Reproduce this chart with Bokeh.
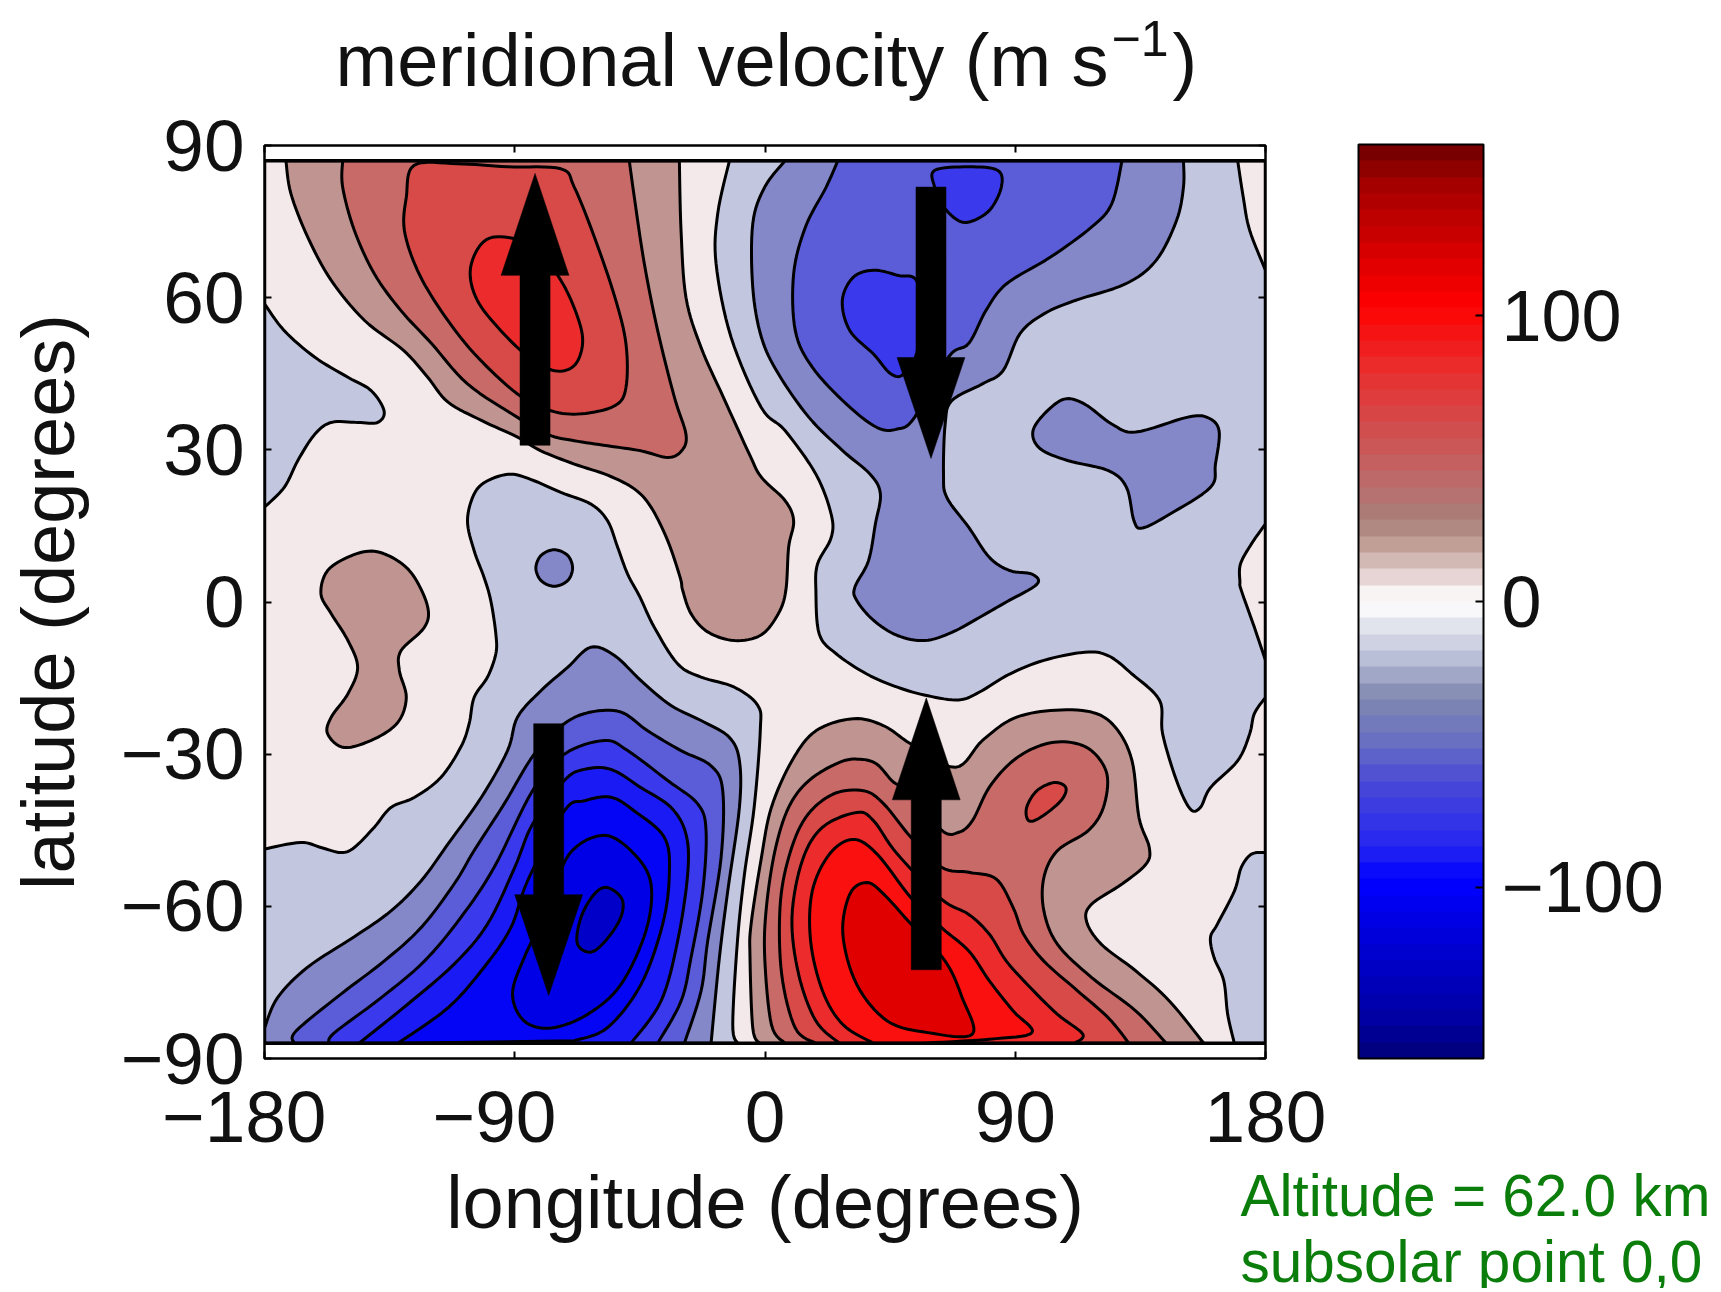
import numpy as np
from bokeh.embed import file_html
from bokeh.resources import INLINE
from bokeh.plotting import figure
from bokeh.layouts import column
from bokeh.core.properties import value
from bokeh.models import (ColumnDataSource, FixedTicker, LinearAxis, ColorBar, LinearColorMapper)

# ---- tick labels / text ----
x_ticks = [-180, -90, 0, 90, 180]
y_ticks = [-90, -60, -30, 0, 30, 60, 90]
cb_ticks = [-100, 0, 100]
title_text = ["meridional velocity (m s", "\u22121", ")"]
note_lines = ["Altitude = 62.0 km", "subsolar point 0,0"]

# ---- contour outlines (lon, lat) ----
neg1_north = [(-12.8,87),(-17,76.6),(-17.6,66.7),(-12.2,52.2),(-1.4,38.4),(7.2,33.8),(18.3,25.2),(23.8,17.3),(23.8,12.7),(18.9,7.5),(18.3,2.3),(19.5,-6.3),(25.6,-10.2),(36.6,-14.2),(47.6,-16.8),(58.6,-18.5),(69.7,-19.3),(77,-17.8),(88,-14.2),(100.3,-11.5),(115,-9.9),(123.5,-10.6),(132,-14.2),(141.9,-19.4),(143,-26),(148,-35.2),(152.9,-40.8),(156.6,-40.5),(160.2,-36.6),(170,-31.3),(174.3,-26),(176,-22),(180,-18.8)]
zero_east = [(180,15.4),(175,11.5),(171,7.5),(170.8,4),(171.3,2.3),(176,-5),(180,-11.5)]
zero_corner = [(170,87),(172,79.8),(174.3,73.3),(180,65.4)]
neg1_southeast = [(180,-49.4),(175,-49.7),(171.3,-52.3),(168.8,-57),(162.7,-63.5),(160.2,-66.2),(161.5,-70.1),(165,-74.7),(166.4,-81.3),(168.8,-87)]
neg1_west = [(-180,58.8),(-172.9,53.5),(-162,48.3),(-150,44.3),(-141.7,41.7),(-137,37.7),(-139.3,35.4),(-146.5,35.4),(-156,35.4),(-162,33),(-168,27.9),(-172.9,22.6),(-180,18.7)]
neg1_south = [(-180,-48.7),(-167,-47.4),(-159.7,-48.4),(-152.5,-49.4),(-147.7,-48.4),(-140.5,-44.4),(-134.5,-40.5),(-126,-38.5),(-116.6,-34.6),(-109.4,-28.6),(-106.4,-24),(-104.6,-18.8),(-99.8,-14.8),(-96.8,-10.2),(-96.8,-6.3),(-98.6,0.2),(-101,4.8),(-104.6,10.1),(-107,16),(-104.6,21.3),(-99.8,23.9),(-91.4,25.2),(-83,23.9),(-73.4,21.6),(-62.6,19.3),(-56.6,16),(-53,10.8),(-49.4,5.5),(-45,1),(-39.8,-5),(-31.4,-12.2),(-23,-14.8),(-11,-16.8),(-2.6,-20.4),(-1.7,-25.4),(-3.9,-40.5),(-7.4,-53.7),(-9.9,-66.8),(-11.6,-83.3),(-9.9,-87)]
neg2_dot = [(-75.8,10.3),(-71,9.2),(-69.2,6.7),(-71,4.2),(-75.8,3.1),(-80.5,4.2),(-82.4,6.7),(-80.5,9.2)]
neg2_south = [(-180,-84),(-175.3,-78),(-164.5,-72),(-147.7,-66),(-134.5,-60.9),(-123.7,-55),(-114,-47.7),(-102,-38.5),(-92.6,-29.3),(-89,-22.7),(-80.6,-17.5),(-71,-12.9),(-62.6,-8.9),(-54,-10.6),(-44.6,-15.5),(-33.8,-20.4),(-21.8,-23.7),(-12.8,-26.7),(-9.2,-31.3),(-9.2,-40.5),(-13.4,-57),(-16.4,-70.1),(-19.4,-87)]
neg3_south = [(-169.3,-87),(-168.7,-84.6),(-152.5,-77.3),(-137,-70.8),(-123.7,-64.2),(-111.8,-55.6),(-104.6,-49),(-93.8,-39.8),(-83,-30),(-72.2,-24),(-62.6,-21.7),(-51.8,-21.7),(-42.2,-25.4),(-30.2,-29.3),(-19.4,-32.3),(-15.2,-37.2),(-15.8,-50.4),(-20.6,-66.8),(-23,-76.7),(-29,-87)]
neg4_south = [(-156.7,-87),(-155,-85),(-138,-78),(-122.5,-70.8),(-109.4,-62.2),(-97.4,-52.3),(-83.6,-37.2),(-72.2,-30),(-57.8,-27.3),(-49.4,-29.3),(-35,-35.2),(-24.2,-39.8),(-21.2,-45.1),(-22.4,-57),(-26.6,-70.1),(-30.2,-78.7),(-38.6,-87)]
neg5_south = [(-146,-87),(-128.5,-79.3),(-111.8,-71.4),(-99.8,-63.5),(-90,-52.3),(-83.6,-43.8),(-72.2,-35.2),(-65,-33),(-55.4,-33),(-44.6,-36.6),(-33.8,-40.5),(-28.4,-45.8),(-27.8,-53.6),(-31.4,-66.8),(-37.4,-78.7),(-48.2,-87)]
neg6_south = [(-132,-87),(-114,-80),(-101,-72),(-91.4,-64.2),(-85.4,-55),(-72.2,-41.2),(-65,-39.2),(-55.4,-38.5),(-47,-41.2),(-36.2,-46.4),(-34.4,-53.6),(-36.8,-63.5),(-44.6,-75.4),(-56.6,-83.9),(-68.6,-86.5)]
neg7_south = [(-57.8,-46),(-47,-49.7),(-41,-55.6),(-42.8,-64.8),(-51.8,-75.4),(-63.8,-81.3),(-77,-84),(-86.6,-82.6),(-90.8,-77.3),(-86.6,-70.1),(-78,-60.2),(-70.4,-49.7)]
neg8_south = [(-56.6,-56.3),(-51.2,-58.9),(-53,-63.5),(-61.4,-68.8),(-67.4,-67.5),(-66.2,-62.2),(-61.4,-57.6)]
neg2_north = [(7.2,87),(-0.1,81.8),(-4.4,74.6),(-4.4,62),(-1.3,52.2),(4.8,45),(15.8,36.4),(28,29.8),(37.8,25.2),(41.5,21.3),(39.7,15.4),(37.2,8.1),(32.3,2.9),(33,0.3),(39,-3.6),(47.6,-6.6),(57.4,-7.6),(67.2,-6),(78.2,-2.7),(86.8,0),(97.8,3.5),(96,5.5),(88,6.2),(80.7,8.8),(73.3,14.7),(65.4,20.6),(64.2,25.2),(64.8,35.1),(67.2,39.7),(78.2,43),(85.6,45.6),(91.7,52.9),(100.3,56.8),(111.3,59.4),(129.6,62.7),(140.6,67.3),(148,75.2),(150.5,81.8),(150.5,87)]
neg2_island = [(107.6,40),(100.3,37),(96.3,33.5),(99,30.2),(108.8,27.9),(123.5,25.9),(130,22.6),(132.7,16),(135.8,14.6),(145.5,17.3),(160.2,22.6),(162,27.2),(163.3,33.8),(159,36.4),(151.7,36.4),(133.3,33.5),(124.7,35.1),(115,39)]
neg3_north = [(26.2,87),(22,81.8),(14.6,74),(10.3,64.7),(10.9,53.5),(17,46.3),(29.3,39),(40.3,34.4),(47.6,34.1),(53.8,36.4),(66,48.3),(73.3,51),(79.5,57.5),(86.8,62.7),(102.7,68),(117.4,73.9),(124.7,78.5),(128.4,87)]
neg4_core = [(39,65.4),(31.7,64),(27.8,59.4),(30.5,53.5),(39,48.9),(45.2,45),(50,45),(55,50.2),(55,62.7),(47.6,64.4)]
neg4_pole = [(61,85.1),(73.3,85.8),(83.7,85.1),(85,81.8),(80.7,77.2),(73.3,74.9),(68.4,75.6),(63.5,78.5),(61,81.8)]
pos1_north = [(-172.3,87),(-170.5,80.5),(-164.5,72),(-156,63.4),(-144,55.5),(-130,49.6),(-121.3,44.3),(-114,39.4),(-102,35.8),(-89,32.5),(-80.6,29.8),(-68.6,27.2),(-56.6,25),(-47,22.3),(-41,18.7),(-35,12.1),(-30.5,4.8),(-29.6,2.3),(-26.6,-2.3),(-20.6,-5.9),(-11,-7.6),(-1.4,-6.5),(4.8,-2.3),(7.5,2.3),(8.5,10.8),(10.3,16),(7.2,20),(-1.3,24.6),(-5.5,29),(-15,40.4),(-23,50.2),(-28.4,60),(-30.2,73.3),(-30.8,87)]
pos1_blob = [(-140.5,10),(-148.9,9.1),(-157.3,6.2),(-159.7,1.6),(-156,-2.3),(-150,-7.6),(-146.5,-12.9),(-150,-18.1),(-156,-22.7),(-157.3,-26),(-151.3,-28.7),(-140.5,-27),(-132,-23.7),(-129,-18.8),(-131.5,-13.5),(-130.9,-9.6),(-122.5,-5),(-121.3,-1),(-126,4.8),(-132,8.1)]
pos2_north = [(-151.9,87),(-151.9,81.8),(-147.7,73.3),(-140.5,64.7),(-131,57.5),(-120,51),(-107,43),(-89,36.4),(-78,33),(-68.6,31.8),(-56.6,30.8),(-44.6,29.8),(-35,28.5),(-30,29.8),(-28.4,33),(-32.6,40.4),(-38.6,53.5),(-43.4,66.7),(-47,79.8),(-48.8,87)]
pos3_north = [(-126.2,86.1),(-129,79.8),(-129.7,73.3),(-125,65.4),(-116.6,57.5),(-104.6,49),(-89,41),(-77,37.7),(-66,37.1),(-54,38.7),(-50,42.3),(-50,50.9),(-54,60.1),(-61.4,72),(-68.6,81.8),(-73.4,85.4),(-92.6,85.8),(-110.6,86.4)]
pos4_north = [(-95,72),(-102,70.6),(-106,65.4),(-103.5,59.5),(-95,53.5),(-85,48.3),(-75.7,45.6),(-68.6,46.6),(-65.6,51),(-67.4,56.2),(-73.4,63.4),(-83,70)]
pos1_south = [(-2,-87),(-4.4,-84),(-5.4,-70),(-5,-63.5),(-1.3,-50.4),(2.3,-40.5),(9.7,-31.3),(18.3,-25.4),(31.7,-23),(42.7,-24.4),(52.5,-28),(68.4,-32.6),(78.2,-27.3),(89.2,-23),(102.7,-21.4),(117.4,-21.7),(126,-24.7),(132,-31.3),(134.5,-42.5),(138.2,-48.4),(137,-51.7),(128.4,-55.6),(117.4,-59.6),(115.6,-62.9),(121,-67.5),(133.3,-72.7),(145.5,-78.7),(157.8,-87)]
pos2_south = [(7.2,-87),(2.3,-83.3),(-0.1,-70.1),(0.5,-60.2),(3.6,-49),(8.5,-40.5),(15.8,-35.2),(26.8,-31.6),(34.2,-31),(40.3,-32),(46.4,-35.6),(52.5,-37.2),(63.5,-45),(69.7,-45.4),(74.6,-43.1),(80.7,-36.5),(89.2,-31.3),(99,-28.3),(108.8,-27.6),(117.4,-29.3),(123,-34),(121.7,-40.5),(116.2,-45.1),(105.2,-49),(100.3,-54.3),(100.3,-60.9),(105.2,-67.5),(117.4,-74),(133.3,-80.6),(144.3,-87)]
pos3_spot = [(104,-35.6),(108.2,-36.6),(106.4,-39.2),(99,-42.5),(94.8,-43.1),(94.1,-40.5),(97.8,-37.2)]
pos3_south = [(18.3,-87),(10.9,-84),(6,-73.4),(5.4,-60.2),(8.5,-50.4),(14.6,-42.5),(24.4,-37.9),(35.4,-37.2),(42.7,-39.8),(52.5,-46.4),(63.5,-52.3),(73.3,-53.3),(83.1,-54.6),(89.2,-60.2),(93,-65.5),(100.3,-70.8),(112.5,-76.7),(123.5,-82),(130.9,-87)]
pos4_south = [(26.8,-87),(18.3,-82.6),(12.1,-73.4),(9.7,-62.2),(13.4,-51),(20.7,-44.4),(33,-41.5),(39,-43.1),(47.6,-49.7),(63.5,-58.6),(73.3,-61.6),(80.7,-65.5),(86.8,-70.8),(95.4,-76),(105.2,-81.3),(114.3,-85.2),(111.3,-87)]
pos5_south = [(39,-87),(28,-83.3),(20.7,-76.7),(16.4,-66.8),(17,-57),(23.2,-49.7),(31.7,-46.8),(40.3,-49.7),(52.5,-58.3),(63.5,-64.2),(73.3,-68.8),(80.7,-74.7),(89.2,-80.6),(96,-84.9),(80.7,-86.2),(56.2,-87)]
pos6_south = [(36.6,-55.3),(30.5,-57.6),(28,-65.5),(33,-75.4),(44,-82.6),(58.6,-84.9),(74.6,-85.2),(70.9,-78),(64.8,-70.8),(52.5,-63.5),(42.7,-57.6)]

# arrows: longitude, tail latitude, head-base latitude, tip latitude
arrow_lon = [-82.7, 59.7, -77.8, 58.0]
arrow_tail = [30.9, 81.8, -24.0, -72.5]
arrow_base = [64.4, 48.2, -57.7, -39.0]
arrow_tip = [84.5, 28.3, -77.6, -18.9]

# band colours
ZERO = "#f3e9ea"
N1, N2, N3, N4, N5, N6, N7, N8 = "#c3c6df", "#8487c8", "#5a5cd8", "#3a3aec", "#1a1af5", "#0505f5", "#0000e6", "#0000c8"
P1, P2, P3, P4, P5, P6 = "#c09490", "#c86a68", "#d84a48", "#ec2c2c", "#fb1010", "#e00000"

# (outline, colour, closed, corners added on the boundary)
layers = [
    (neg1_north, N1, False, [(180, 87)]),
    (zero_east, ZERO, False, []),
    (zero_corner, ZERO, False, [(180, 87)]),
    (neg1_southeast, N1, False, [(180, -87)]),
    (neg1_west, N1, False, []),
    (neg1_south, N1, False, [(-180, -87)]),
    (neg2_dot, N2, True, []),
    (neg2_south, N2, False, [(-180, -87)]),
    (neg3_south, N3, False, []),
    (neg4_south, N4, False, []),
    (neg5_south, N5, False, []),
    (neg6_south, N6, False, []),
    (neg7_south, N7, True, []),
    (neg8_south, N8, True, []),
    (neg2_north, N2, False, []),
    (neg2_island, N2, True, []),
    (neg3_north, N3, False, []),
    (neg4_core, N4, True, []),
    (neg4_pole, N4, True, []),
    (pos1_north, P1, False, []),
    (pos1_blob, P1, True, []),
    (pos2_north, P2, False, []),
    (pos3_north, P3, True, []),
    (pos4_north, P4, True, []),
    (pos1_south, P1, False, []),
    (pos2_south, P2, False, []),
    (pos3_spot, P3, True, []),
    (pos3_south, P3, False, []),
    (pos4_south, P4, False, []),
    (pos5_south, P5, False, []),
    (pos6_south, P6, True, []),
]

# colour bar palette anchors
cb_vals = [-160, -150, -100, -86, -65, -48, -34, -19, -8, -1, 1, 8, 18, 29, 39, 60, 81, 106, 150, 160]
cb_cols = ["#000080", "#0000a0", "#0000ff", "#2828f0", "#4848d8", "#6c74c0", "#8088b0", "#c0c4dc", "#e4e6ee",
           "#ffffff", "#ffffff", "#e8d8d8", "#c8a8a0", "#a88078", "#b87070", "#d05050", "#e83030", "#ff0000",
           "#a00000", "#780000"]


def catmull(pts, closed, n=8):
    a = np.array(pts, float)
    m = len(a)
    out = []
    segs = m if closed else m - 1
    for i in range(segs):
        if closed:
            p0, p1, p2, p3 = a[(i - 1) % m], a[i], a[(i + 1) % m], a[(i + 2) % m]
        else:
            p0, p1, p2, p3 = a[max(i - 1, 0)], a[i], a[i + 1], a[min(i + 2, m - 1)]
        for t in np.linspace(0, 1, n, endpoint=False):
            out.append(0.5 * ((2 * p1) + (-p0 + p2) * t + (2 * p0 - 5 * p1 + 4 * p2 - p3) * t ** 2
                              + (-p0 + 3 * p1 - 3 * p2 + p3) * t ** 3))
    if not closed:
        out.append(a[-1])
    return np.array(out)


xs, ys, cs = [], [], []
for pts, col, closed, corners in layers:
    c = catmull(pts, closed)
    if corners:
        c = np.vstack([c, np.array(corners, float)])
    xs.append(np.clip(c[:, 0], -180, 180).tolist())
    ys.append(np.clip(c[:, 1], -87, 87).tolist())
    cs.append(col)

FONT = "Liberation Sans"
SIZE = "73px"


def text_strip(width, height, margin=None):
    f = figure(width=width, height=height, x_range=(0, width), y_range=(height, 0), x_axis_type=None,
               y_axis_type=None, min_border=0, output_backend="svg", toolbar_location=None,
               outline_line_color=None, background_fill_color=None, border_fill_color=None, margin=margin,
               frame_align=False)
    f.grid.visible = False
    return f


# title strip
title_fig = text_strip(1713, 115)
title_fig.text(x=[335], y=[60], text=[title_text[0]], text_font=value(FONT), text_font_size=value("74px"),
               text_color="#111111", text_baseline="alphabetic")
title_fig.text(x=[1111], y=[38], text=[title_text[1]], text_font=value(FONT), text_font_size=value("50px"),
               text_color="#111111", text_baseline="alphabetic")
title_fig.text(x=[1172], y=[60], text=[title_text[2]], text_font=value(FONT), text_font_size=value("74px"),
               text_color="#111111", text_baseline="alphabetic")

p = figure(width=1713, height=1169, x_range=(-180, 180), y_range=(-90, 90),
           min_border_left=264, min_border_top=30, min_border_right=448, min_border_bottom=226,
           output_backend="svg", toolbar_location=None, background_fill_color="white",
           border_fill_color="white", x_axis_label="longitude (degrees)", y_axis_label="latitude (degrees)",
           frame_align=False)
p.grid.visible = False
p.outline_line_color = "black"
p.outline_line_width = 2.5

p.quad(left=[-180], right=[180], bottom=[-87], top=[87], fill_color=ZERO, line_color=None)
p.patches("xs", "ys", source=ColumnDataSource(dict(xs=xs, ys=ys, c=cs)), fill_color="c",
          line_color="black", line_width=3, line_join="round")
p.quad(left=[-180], right=[180], bottom=[-87], top=[87], fill_color=None, line_color="black", line_width=3.5)

# arrows
ax, ay = [], []
for lon, tail, base, tip in zip(arrow_lon, arrow_tail, arrow_base, arrow_tip):
    sw, hw = 5.4, 12.2
    ax.append([lon - sw, lon + sw, lon + sw, lon + hw, lon, lon - hw, lon - sw])
    ay.append([tail, tail, base, base, tip, base, base])
p.patches(ax, ay, fill_color="black", line_color="black", line_width=0.5)

# axes
minus = lambda v: str(v).replace("-", "\u2212") + ("\u00a0\u00a0" if v < 0 else "")
for ax_ in (p.xaxis[0], p.yaxis[0]):
    ax_.major_tick_in = 7
    ax_.major_tick_out = 0
    ax_.minor_tick_line_color = None
    ax_.major_label_text_font = FONT
    ax_.major_label_text_font_size = SIZE
    ax_.major_label_text_color = "#111111"
    ax_.axis_label_text_font = FONT
    ax_.axis_label_text_font_size = "74px"
    ax_.axis_label_text_font_style = "normal"
    ax_.axis_label_text_color = "#111111"
    ax_.axis_line_color = "black"
    ax_.major_tick_line_color = "black"
    ax_.major_tick_line_width = 2
p.xaxis[0].ticker = FixedTicker(ticks=x_ticks)
p.yaxis[0].ticker = FixedTicker(ticks=y_ticks)
p.xaxis[0].major_label_overrides = {v: minus(v) for v in x_ticks}
p.yaxis[0].major_label_overrides = {v: str(v).replace("-", "\u2212") for v in y_ticks}
p.xaxis[0].major_label_standoff = 17
p.yaxis[0].major_label_standoff = 20
p.xaxis[0].axis_label_standoff = 1
p.yaxis[0].axis_label_standoff = 28

for side, tk in (("above", x_ticks), ("right", y_ticks)):
    extra = LinearAxis(ticker=FixedTicker(ticks=tk), major_label_text_color=None, major_label_text_font_size="1px",
                       major_tick_in=7, major_tick_out=0, minor_tick_line_color=None,
                       major_tick_line_width=2, axis_line_color="black")
    p.add_layout(extra, side)

# colour bar
vals = np.linspace(-160, 160, 56)
rgb = np.array([[int(c[i:i + 2], 16) for i in (1, 3, 5)] for c in cb_cols], float)
palette = ["#%02x%02x%02x" % tuple(int(round(np.interp(v, cb_vals, rgb[:, k]))) for k in range(3)) for v in vals]
cb = ColorBar(color_mapper=LinearColorMapper(palette=palette, low=-160, high=160),
              ticker=FixedTicker(ticks=cb_ticks),
              major_label_overrides={v: str(v).replace("-", "\u2212") for v in cb_ticks},
              width=125, height=914, location=(1094, 0), padding=0, margin=0,
              major_label_text_font=FONT, major_label_text_font_size="72px", major_label_text_color="#111111",
              major_tick_in=8, major_tick_line_color="black", major_tick_line_width=2,
              minor_tick_line_color=None, bar_line_color="black", bar_line_width=2,
              label_standoff=18, background_fill_color=None, border_line_color=None)
p.add_layout(cb)

# annotation strip, drawn over the empty lower right corner of the plot
note_fig = text_strip(478, 118, margin=(-114, 0, 0, 1235))
note_fig.text(x=[5, 5], y=[25, 91], text=note_lines, text_font=value(FONT), text_font_size=value("58.5px"),
              text_color="#0a7d0a", text_baseline="alphabetic")

page = column(title_fig, p, note_fig, spacing=0)
open("out.html", "w").write(file_html(page, INLINE))
